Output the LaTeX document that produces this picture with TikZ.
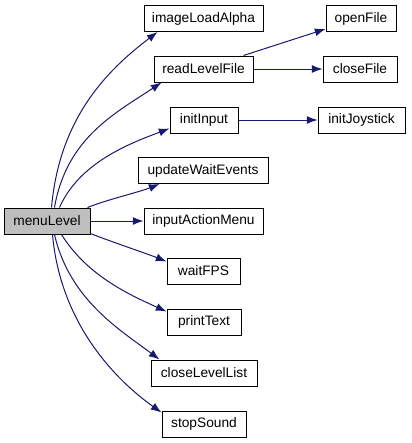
\documentclass[tikz,border=0pt]{standalone}
\usepackage{fontspec}
\setmainfont{Liberation Sans}
\usetikzlibrary{arrows.meta,calc}
\definecolor{edgeblue}{HTML}{191970}
\definecolor{curgray}{HTML}{BFBFBF}
\begin{document}
\begin{tikzpicture}[x=0.75pt,y=-0.75pt,
  fn/.style={draw=black,line width=0.75pt,fill=white,inner sep=0pt,minimum height=19.5pt,font=\fontsize{10.3}{12}\selectfont},
  call/.style={draw=edgeblue,line width=0.75pt,-{Latex[length=8pt,width=6pt]}}]
\useasboundingbox (0,0) rectangle (411,443);
\fill[white] (0,0) rectangle (411,443);
% nodes (centres and widths in px)
\node[fn,fill=curgray,minimum width=64.5pt] (menu) at (47,221) {menuLevel};
\node[fn,minimum width=89.25pt] (ila) at (203.5,18.5) {imageLoadAlpha};
\node[fn,minimum width=74.25pt] (rlf) at (203.5,69) {readLevelFile};
\node[fn,minimum width=51pt] (ii) at (204,120) {initInput};
\node[fn,minimum width=52.5pt] (of) at (361,18.5) {openFile};
\node[fn,minimum width=55.5pt] (cf) at (360,69) {closeFile};
\node[fn,minimum width=65.25pt] (ij) at (361.5,120) {initJoystick};
\node[fn,minimum width=97.5pt] (uwe) at (203,170.5) {updateWaitEvents};
\node[fn,minimum width=89.25pt] (iam) at (203.5,221) {inputActionMenu};
\node[fn,minimum width=54.75pt] (wf) at (203.5,271) {waitFPS};
\node[fn,minimum width=55.5pt] (pt) at (204,322) {printText};
\node[fn,minimum width=79.5pt] (cll) at (204,373) {closeLevelList};
\node[fn,minimum width=63pt] (ss) at (204,424) {stopSound};
% connectors
\draw[call] ($(menu.north west)+(48,0)$) .. controls +(8,-90) and +(-50,38) .. ($(ila.south west)+(14,0)$);
\draw[call] ($(menu.north west)+(51,0)$) .. controls +(12,-70) and +(-45,30) .. ($(rlf.south west)+(8,0)$);
\draw[call] ($(menu.north west)+(56,0)$) .. controls +(20,-45) and +(-40,15) .. ($(ii.south west)+(0,-5)$);
\draw[call] ($(menu.north west)+(84,0)$) .. controls +(20,-8) and +(-20,8) .. ($(uwe.south west)+(22,0)$);
\draw[call] (menu.east) -- (iam.west);
\draw[call] ($(menu.south east)+(0,-1)$) .. controls +(20,8) and +(-20,-8) .. ($(wf.north west)+(0,4)$);
\draw[call] ($(menu.south west)+(58,0)$) .. controls +(25,40) and +(-40,-18) .. ($(pt.north west)+(0,3)$);
\draw[call] ($(menu.south west)+(51,0)$) .. controls +(15,65) and +(-40,-30) .. ($(cll.north west)+(9,0)$);
\draw[call] ($(menu.south west)+(49,0)$) .. controls +(8,90) and +(-45,-32) .. ($(ss.north west)+(0,2)$);
\draw[call] ($(rlf.north east)+(-10,0)$) -- ($(of.south west)+(0,-3)$);
\draw[call] (rlf.east) -- (cf.west);
\draw[call] (ii.east) -- (ij.west);
\end{tikzpicture}
\end{document}
